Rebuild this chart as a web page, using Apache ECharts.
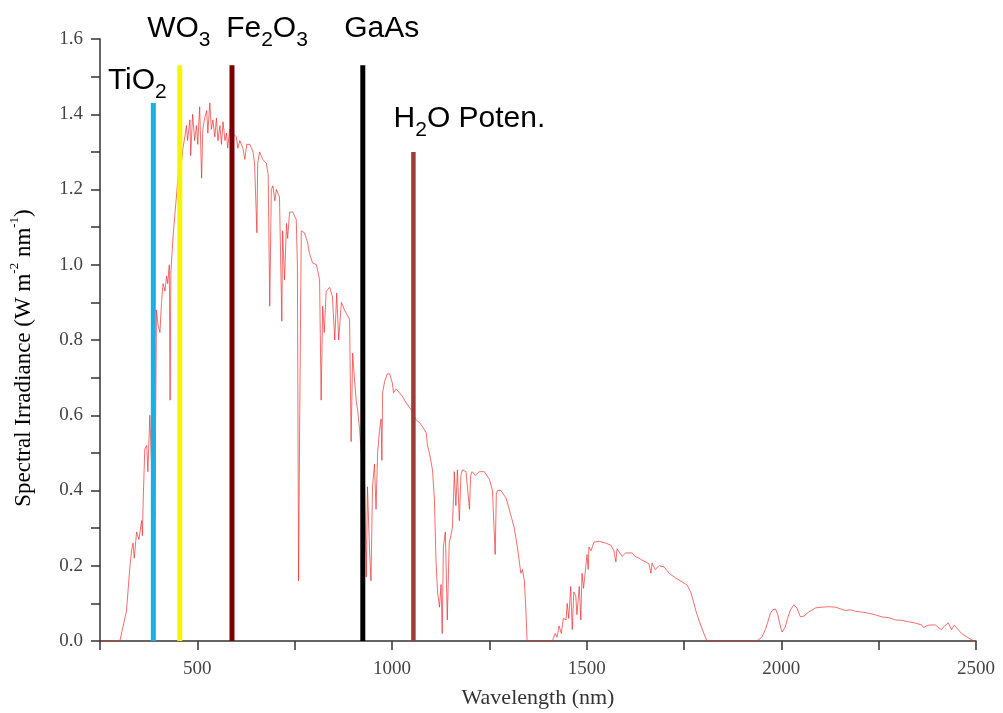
<!DOCTYPE html>
<html>
<head>
<meta charset="utf-8">
<script src="https://cdn.jsdelivr.net/npm/echarts@6/dist/echarts.min.js"></script>
<style>html,body{margin:0;padding:0;background:#fff}#c{width:1003px;height:713px}</style>
</head>
<body>
<div id="c"></div>
<script>
// Solar spectrum
const wavelength = [250,301,306,318,327,331,335,338,344,350,357,359,361,365,370,373,378,382,386,391,395,399,404,408,412,417,421,424,428,430,432,438,442,447,451,455,459,463,468,472,475,481,483,486,488,493,498,501,506,511,514,519,524,527,532,536,540,545,549,553,558,562,566,571,575,578,583,591,600,604,609,617,622,627,635,643,647,653,655,660,668,677,682,686,690,694,699,703,711,717,719,724,729,732,737,745,754,757,760,763,767,775,783,788,796,806,814,818,822,826,831,840,847,853,858,863,870,878,883,891,895,899,904,908,912,917,921,929,934,937,942,946,950,955,959,963,968,972,974,976,981,988,994,1001,1004,1011,1019,1027,1035,1045,1053,1060,1071,1078,1088,1091,1096,1104,1109,1113,1117,1122,1126,1129,1132,1137,1140,1142,1147,1155,1158,1160,1164,1168,1173,1177,1181,1190,1199,1202,1206,1214,1224,1237,1250,1258,1265,1268,1271,1280,1286,1293,1301,1309,1314,1322,1331,1335,1340,1344,1347,1412,1419,1424,1429,1435,1440,1447,1450,1454,1459,1463,1467,1472,1475,1481,1485,1488,1492,1498,1501,1504,1506,1511,1519,1532,1549,1562,1570,1575,1578,1583,1591,1600,1617,1624,1635,1642,1652,1660,1665,1668,1676,1686,1699,1712,1729,1745,1758,1767,1773,1780,1788,1801,1809,1937,1942,1950,1959,1965,1972,1978,1985,1991,1998,2002,2010,2016,2023,2032,2040,2049,2058,2070,2088,2104,2122,2139,2164,2178,2190,2206,2224,2240,2258,2276,2293,2309,2327,2342,2360,2365,2378,2395,2411,2419,2429,2437,2444,2450,2463,2470,2481,2494,2500];
const irradiance = [0,0,0,0.08,0.20,0.24,0.26,0.22,0.29,0.27,0.32,0.28,0.375,0.51,0.52,0.45,0.60,0.48,0.40,0.33,0.88,0.84,0.82,0.90,0.95,0.93,0.97,0.95,1.0,0.64,0.98,1.08,1.13,1.19,1.24,1.30,1.27,1.31,1.34,1.37,1.33,1.385,1.29,1.36,1.40,1.33,1.37,1.32,1.42,1.23,1.36,1.39,1.41,1.35,1.43,1.36,1.385,1.34,1.39,1.33,1.37,1.32,1.38,1.33,1.35,1.31,1.36,1.35,1.34,1.31,1.33,1.31,1.28,1.32,1.32,1.30,1.27,1.085,1.27,1.30,1.28,1.27,1.24,0.89,1.20,1.21,1.17,1.20,1.18,0.85,1.09,0.96,1.11,1.07,1.14,1.14,1.12,1.00,0.16,0.6,1.09,1.085,1.06,1.03,1.005,1.0,0.96,0.64,0.89,0.82,0.93,0.94,0.915,0.80,0.925,0.80,0.90,0.88,0.87,0.855,0.53,0.765,0.69,0.64,0.61,0.56,0.50,0.45,0.17,0.41,0.25,0.16,0.41,0.47,0.35,0.50,0.56,0.59,0.48,0.66,0.69,0.71,0.71,0.685,0.66,0.67,0.66,0.65,0.635,0.62,0.61,0.59,0.58,0.57,0.553,0.52,0.50,0.455,0.375,0.215,0.13,0.09,0.15,0.02,0.25,0.29,0.15,0.056,0.26,0.30,0.38,0.45,0.36,0.455,0.32,0.44,0.455,0.45,0.35,0.44,0.45,0.44,0.45,0.45,0.43,0.40,0.23,0.39,0.40,0.40,0.39,0.38,0.35,0.32,0.30,0.25,0.18,0.19,0.16,0.08,0,0,0.02,0.01,0.04,0.02,0.06,0.056,0.10,0.06,0.145,0.03,0.13,0.12,0.07,0.145,0.056,0.18,0.14,0.20,0.23,0.19,0.25,0.24,0.263,0.265,0.26,0.255,0.24,0.21,0.245,0.24,0.225,0.234,0.234,0.225,0.22,0.215,0.21,0.205,0.18,0.207,0.19,0.20,0.197,0.18,0.167,0.157,0.149,0.13,0.11,0.082,0.056,0.02,0,0,0,0.01,0.03,0.05,0.074,0.083,0.085,0.07,0.037,0.024,0.037,0.06,0.082,0.096,0.088,0.064,0.066,0.077,0.088,0.09,0.091,0.09,0.081,0.083,0.079,0.077,0.074,0.070,0.064,0.062,0.056,0.055,0.051,0.048,0.043,0.036,0.042,0.043,0.03,0.04,0.048,0.03,0.042,0.035,0.02,0.015,0.008,0,0];

// Band-edge markers
const materialLabels = ['{n|TiO}{s|2}', '{n|WO}{s|3}', '{n|Fe}{s|2}{n|O}{s|3}', '{n|GaAs}', '{n|H}{s|2}{n|O Poten.}'];
const edgeWavelength = [387, 455, 589, 925, 1055];
const edgeTop = [1.43, 1.53, 1.53, 1.53, 1.30];

const xTicks = [500, 1000, 1500, 2000, 2500];

const lineColors = ['#1ab0e6', '#f5f500', '#7a0000', '#000000', '#a03c38'];
const lineWidths = [5, 5, 5, 5, 4.5];
const labelDx = [-16, -1, 35, 19, 56];
const labelDy = [-37, -52, -52, -52, -48];

const serif = "'Liberation Serif','Times New Roman',serif";
const sans = "'Liberation Sans',Arial,sans-serif";

const chart = echarts.init(document.getElementById('c'), null, {renderer: 'canvas'});
const rich = {
  n: {fontSize: 30, lineHeight: 32, verticalAlign: 'top', fontFamily: sans, color: '#111'},
  s: {fontSize: 21, lineHeight: 21, padding: [16, 0, 0, 0], verticalAlign: 'top', fontFamily: sans, color: '#111'}
};

chart.setOption({
  animation: false,
  backgroundColor: '#fff',
  grid: {left: 100, right: 27, top: 39, bottom: 72, containLabel: false, outerBoundsMode: 'none'},
  xAxis: {
    type: 'value', min: 250, max: 2500, interval: 250,
    name: 'Wavelength (nm)', nameLocation: 'middle', nameGap: 46,
    nameTextStyle: {fontFamily: serif, fontSize: 22, color: '#333'},
    axisLine: {lineStyle: {color: '#333', width: 1.5}},
    axisTick: {show: true, length: 9, lineStyle: {color: '#333', width: 1.5}},
    axisLabel: {
      margin: 19, fontFamily: serif, fontSize: 19, color: '#444',
      formatter: v => (xTicks.indexOf(v) >= 0 ? String(v) : '')
    },
    splitLine: {show: false}
  },
  yAxis: {
    type: 'value', min: 0, max: 1.6, interval: 0.1,
    axisLine: {show: true, lineStyle: {color: '#333', width: 1.5}},
    axisTick: {show: true, length: 9, lineStyle: {color: '#333', width: 1.5}},
    axisLabel: {
      margin: 17, fontFamily: serif, fontSize: 19, color: '#444',
      formatter: v => (Math.round(v * 10) % 2 === 0 ? v.toFixed(1) : '')
    },
    splitLine: {show: false}
  },
  graphic: [{
    type: 'text', x: 22, y: 358, rotation: Math.PI / 2,
    style: {
      text: '{t|Spectral Irradiance (W m}{u|-2}{t| nm}{u|-1}{t|)}',
      textAlign: 'center', textVerticalAlign: 'middle',
      rich: {
        t: {fontFamily: serif, fontSize: 23, lineHeight: 27, verticalAlign: 'bottom', color: '#333'},
        u: {fontFamily: serif, fontSize: 13, lineHeight: 13, verticalAlign: 'top', color: '#333'}
      }
    }
  }],
  series: [
    {
      type: 'line', showSymbol: false, symbol: 'none', z: 2,
      lineStyle: {color: 'rgba(238,40,40,0.85)', width: 0.8},
      data: wavelength.map((w, i) => [w, irradiance[i]])
    },
    {
      type: 'custom', z: 5, clip: false,
      data: edgeWavelength.map((w, i) => [w, edgeTop[i]]),
      renderItem: function (params, api) {
        const i = params.dataIndex;
        const p0 = api.coord([api.value(0), 0]);
        const p1 = api.coord([api.value(0), api.value(1)]);
        return {
          type: 'group',
          children: [
            {type: 'line', shape: {x1: p0[0], y1: p0[1], x2: p1[0], y2: p1[1]},
             style: {stroke: lineColors[i], lineWidth: lineWidths[i]}},
            {type: 'text', x: p1[0] + labelDx[i], y: p1[1] + labelDy[i],
             style: {text: materialLabels[i], rich: rich, textAlign: 'center', textVerticalAlign: 'top'}}
          ]
        };
      }
    }
  ]
});
</script>
</body>
</html>
